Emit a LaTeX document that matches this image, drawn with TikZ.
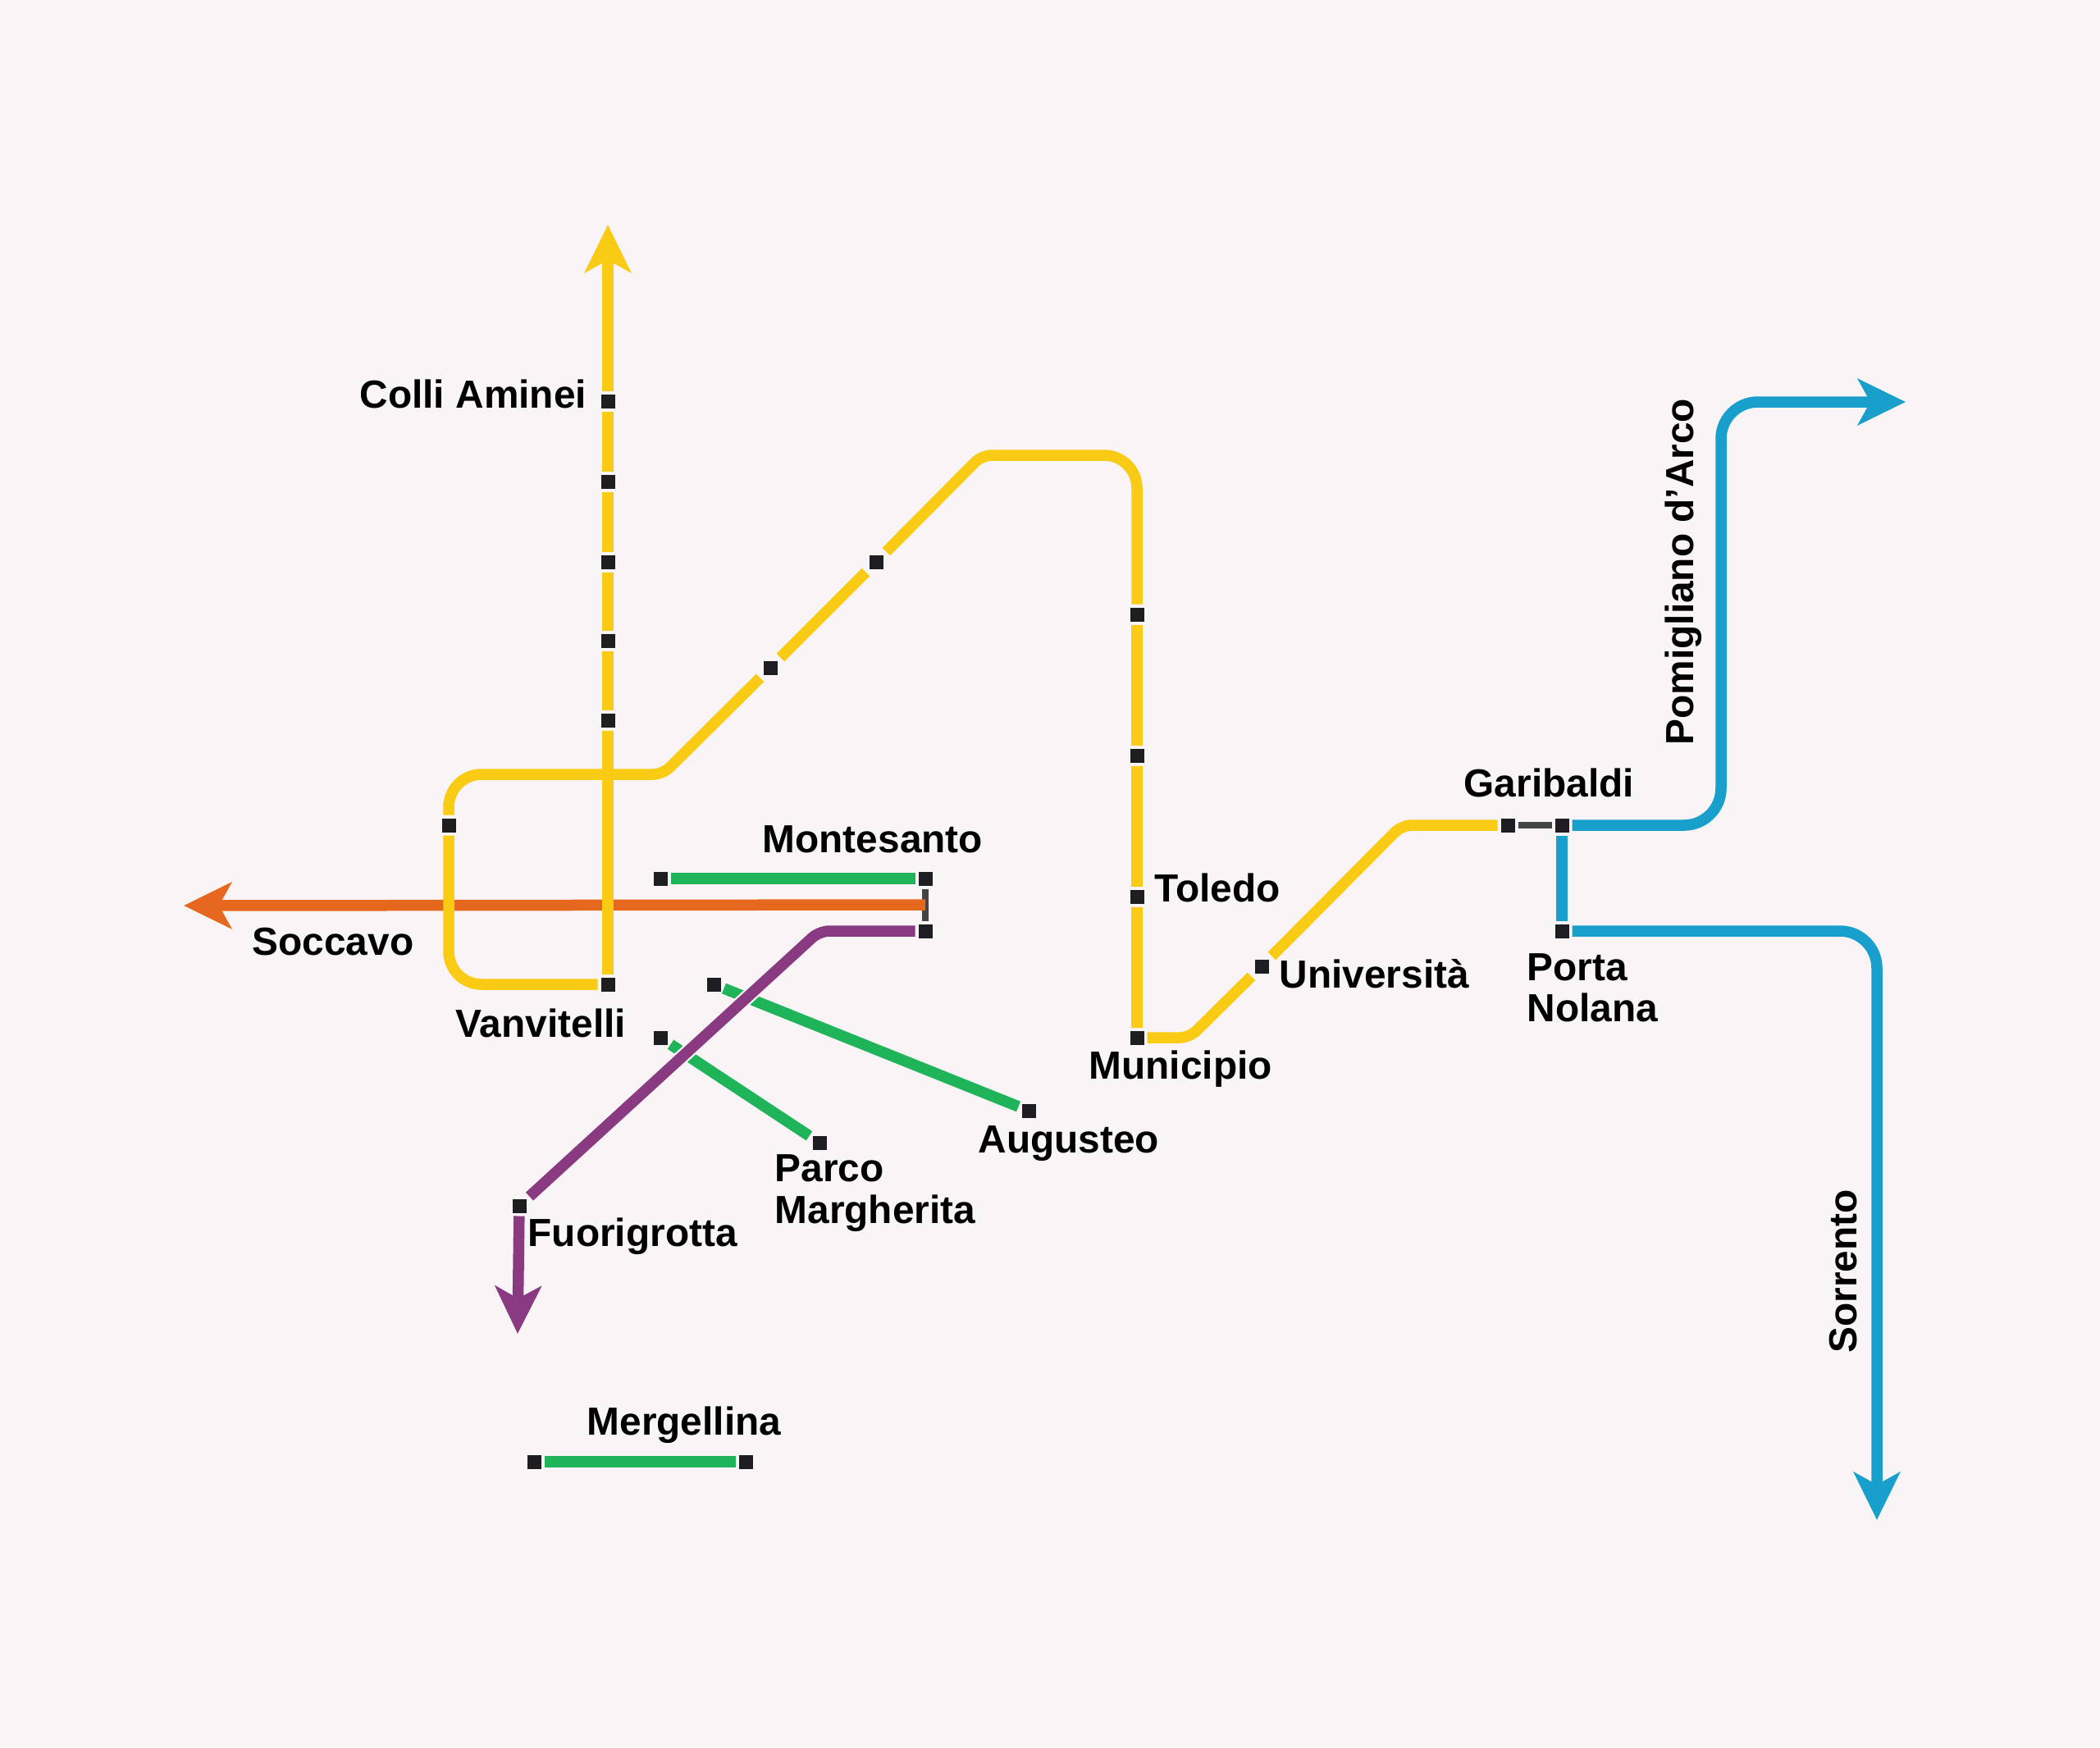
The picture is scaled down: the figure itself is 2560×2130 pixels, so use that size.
\documentclass[tikz,border=0pt]{standalone}
\usepackage{fontspec}
\setmainfont{Liberation Sans}
\usetikzlibrary{arrows.meta}
\usetikzlibrary{positioning}

\definecolor{paper}{HTML}{F9F5F6}
\definecolor{metroyellow}{HTML}{F9CB15}
\definecolor{metroorange}{HTML}{E6681F}
\definecolor{metrogreen}{HTML}{1FB45A}
\definecolor{metropurple}{HTML}{8A3A80}
\definecolor{metroblue}{HTML}{189FCB}
\definecolor{stationdark}{HTML}{1D1D22}
\definecolor{walkgrey}{HTML}{444444}

\begin{document}
\begin{tikzpicture}
  [
    x=0.1mm, y=-0.1mm,
    >={Stealth[length=5.8mm, width=5.6mm, inset=1.5mm]},
    stn/.style   = {rectangle, fill = stationdark, minimum size=1.7mm, inner sep = 0pt, outer sep=0.4mm},
    lbl/.style   = {anchor=base west, inner sep=0pt, align=left, font=\bfseries\fontsize{13.6}{14.2}\selectfont},
    tube/.style  = {line width=1.35mm},
    halo/.style  = {preaction={draw=paper, line width=1.8mm}},
    walk/.style  = {draw=walkgrey, line width=0.75mm},
  ]

  \fill[paper] (0,0) rectangle (2560,2130);
  \useasboundingbox (0,0) rectangle (2560,2130);

  % the stations
  \node (aminei) at (741,489) [stn] {};
  \node (north2) at (741,587) [stn] {};
  \node (north3) at (741,685) [stn] {};
  \node (north4) at (741,781) [stn] {};
  \node (north5) at (741,878) [stn] {};
  \node (vanvitelli) at (741,1200) [stn] {};
  \node (loopwest) at (547,1006) [stn] {};
  \node (diag1) at (939,814) [stn] {};
  \node (diag2) at (1068,685) [stn] {};
  \node (down1) at (1386,749) [stn] {};
  \node (down2) at (1386,921) [stn] {};
  \node (toledo) at (1386,1093) [stn] {};
  \node (municipio) at (1386,1265) [stn] {};
  \node (universita) at (1538,1178) [stn] {};
  \node (garibaldiw) at (1838,1006) [stn] {};
  \node (garibaldie) at (1904,1006) [stn] {};
  \node (nolana) at (1904,1135) [stn] {};
  \node (montesanto) at (1128,1071) [stn] {};
  \node (montewest) at (805,1071) [stn] {};
  \node (purpleend) at (1128,1135) [stn] {};
  \node (fuorigrotta) at (633,1470) [stn] {};
  \node (augustwest) at (870,1200) [stn] {};
  \node (augusteo) at (1254,1354) [stn] {};
  \node (parcowest) at (805,1265) [stn] {};
  \node (parco) at (999,1393) [stn] {};
  \node (mergwest) at (651,1782) [stn] {};
  \node (mergeast) at (909,1782) [stn] {};

  % free ends of the lines
  \coordinate (northend) at (741,274);
  \coordinate (soccavoend) at (224,1104);
  \coordinate (fuoriend) at (631,1626);
  \coordinate (pomiglianoend) at (2323,490);
  \coordinate (sorrentoend) at (2288,1853);

  % walking links
  \draw[walk] (montesanto) -- coordinate (orangestart) (purpleend);
  \draw[walk] (garibaldiw) -- (garibaldie);

  % orange
  \draw[->, tube, metroorange] (orangestart) -- (soccavoend);

  % green
  \draw[tube, metrogreen] (montewest) -- (montesanto);
  \draw[tube, metrogreen] (augustwest) -- (augusteo);
  \draw[tube, metrogreen] (parcowest) -- (parco);
  \draw[tube, metrogreen] (mergwest) -- (mergeast);

  % purple
  \draw[tube, metropurple, halo, rounded corners=1.2mm] (purpleend) -- (999,1135) -- (fuorigrotta);
  \draw[->, tube, metropurple] (fuorigrotta) -- (fuoriend);

  % yellow
  \draw[tube, metroyellow, rounded corners=4mm] (vanvitelli) -- (547,1200) -- (loopwest);
  \draw[tube, metroyellow] (loopwest) [rounded corners=4mm] -- (547,944) [rounded corners=1.2mm] -- (808,944) -- (diag1);
  \draw[tube, metroyellow] (diag1) -- (diag2);
  \draw[tube, metroyellow] (diag2) [rounded corners=1.2mm] -- (1197,555) [rounded corners=4mm] -- (1386,555) -- (down1);
  \draw[tube, metroyellow] (down1) -- (down2);
  \draw[tube, metroyellow] (down2) -- (toledo);
  \draw[tube, metroyellow] (toledo) -- (municipio);
  \draw[tube, metroyellow, rounded corners=1.2mm] (municipio) -- (1450,1265) -- (universita);
  \draw[tube, metroyellow, rounded corners=1.2mm] (universita) -- (1709,1006) -- (garibaldiw);
  \draw[tube, metroyellow] (north5) -- (vanvitelli);
  \draw[tube, metroyellow] (north4) -- (north5);
  \draw[tube, metroyellow] (north3) -- (north4);
  \draw[tube, metroyellow] (north2) -- (north3);
  \draw[tube, metroyellow] (aminei) -- (north2);
  \draw[->, tube, metroyellow] (aminei) -- (northend);

  % blue
  \draw[->, tube, metroblue, rounded corners=4.5mm] (garibaldie) -- (2098,1006) -- (2098,490) -- (pomiglianoend);
  \draw[tube, metroblue] (garibaldie) -- (nolana);
  \draw[->, tube, metroblue, rounded corners=4.5mm] (nolana) -- (2288,1135) -- (sorrentoend);

  % the labels
  \node (lblaminei) at (438,497) [lbl] {Colli Aminei};
  \node (lblvanvitelli) at (555,1264) [lbl] {Vanvitelli};
  \node (lblsoccavo) at (307,1164) [lbl] {Soccavo};
  \node (lblmontesanto) at (929,1039) [lbl] {Montesanto};
  \node (lbltoledo) at (1407,1099) [lbl] {Toledo};
  \node (lbluniversita) at (1559,1204) [lbl] {Università};
  \node (lblmunicipio) at (1327,1315) [lbl] {Municipio};
  \node (lblgaribaldi) at (1784,971) [lbl] {Garibaldi};
  \node (lblporta) at (1861,1195) [lbl] {Porta};
  \node (lblnolana) at (1861,1245) [lbl] {Nolana};
  \node (lblaugusteo) at (1192,1405) [lbl] {Augusteo};
  \node (lblparco) at (944,1440) [lbl] {Parco};
  \node (lblmargherita) at (944,1491) [lbl] {Margherita};
  \node (lblfuorigrotta) at (643,1519) [lbl] {Fuorigrotta};
  \node (lblmergellina) at (715,1749) [lbl] {Mergellina};
  \node (lblpomigliano) at (2064,909) [lbl, rotate=90] {Pomigliano d’Arco};
  \node (lblsorrento) at (2263,1650) [lbl, rotate=90] {Sorrento};

\end{tikzpicture}
\end{document}
